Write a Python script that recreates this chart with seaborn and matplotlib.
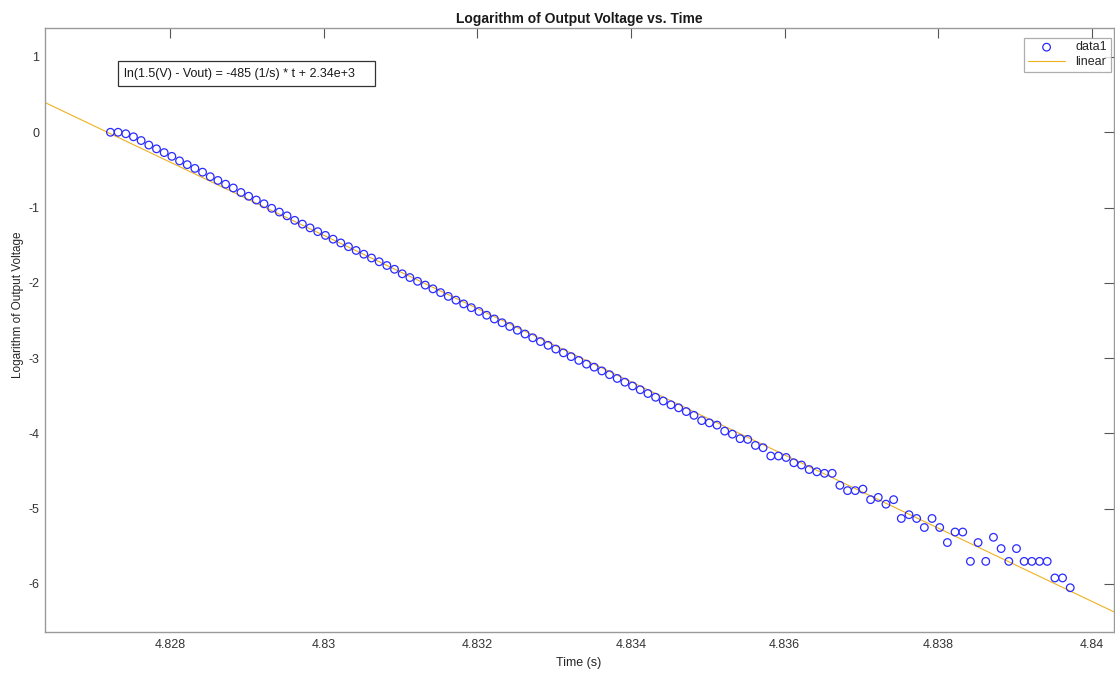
import numpy as np
import pandas as pd
import matplotlib
matplotlib.use("Agg")
import matplotlib.pyplot as plt
from matplotlib.patches import Rectangle
import seaborn as sns

# ---- data ----
t_start = 4.82722      # s, first sample
t_step = 0.0001        # s, sampling interval
log_vout = [
    0.00, 0.00, -0.02, -0.06, -0.11, -0.17, -0.22, -0.27, -0.32, -0.38,
    -0.43, -0.48, -0.53, -0.59, -0.64, -0.69, -0.74, -0.80, -0.85, -0.90,
    -0.95, -1.01, -1.06, -1.11, -1.17, -1.22, -1.27, -1.32, -1.37, -1.42,
    -1.47, -1.52, -1.57, -1.62, -1.67, -1.72, -1.77, -1.82, -1.88, -1.93,
    -1.98, -2.03, -2.08, -2.13, -2.18, -2.23, -2.28, -2.33, -2.38, -2.43,
    -2.48, -2.53, -2.58, -2.63, -2.68, -2.73, -2.78, -2.83, -2.88, -2.93,
    -2.98, -3.03, -3.08, -3.12, -3.17, -3.22, -3.27, -3.32, -3.37, -3.42,
    -3.47, -3.52, -3.57, -3.62, -3.66, -3.71, -3.76, -3.83, -3.86, -3.89,
    -3.97, -4.01, -4.07, -4.08, -4.16, -4.19, -4.30,
    -4.30, -4.32, -4.39, -4.42, -4.48, -4.51, -4.53, -4.53, -4.69, -4.76,
    -4.76, -4.74, -4.88, -4.85, -4.94, -4.88, -5.13, -5.08, -5.13, -5.25,
    -5.13, -5.25, -5.45, -5.31, -5.31, -5.70, -5.45, -5.70, -5.38, -5.53,
    -5.70, -5.53, -5.70, -5.70, -5.70, -5.70, -5.92, -5.92, -6.05,
]
fit_slope = -486.0       # 1/s
fit_intercept = 2346.01
x_limits = [4.826368, 4.84029]
y_limits = [-6.638, 1.389]
x_ticks = [4.828, 4.830, 4.832, 4.834, 4.836, 4.838, 4.840]
x_tick_labels = ["4.828", "4.83", "4.832", "4.834", "4.836", "4.838", "4.84"]
y_ticks = [-6, -5, -4, -3, -2, -1, 0, 1]
y_tick_labels = ["-6", "-5", "-4", "-3", "-2", "-1", "0", "1"]
equation_text = "ln(1.5(V) - Vout) = -485 (1/s) * t + 2.34e+3"

time_s = t_start + t_step * np.arange(len(log_vout))
df = pd.DataFrame({"t": time_s, "y": log_vout})
fit_t = np.array(x_limits)
fit_df = pd.DataFrame({"t": fit_t, "y": fit_slope * fit_t + fit_intercept})

# ---- styling ----
sns.set_theme(style="white")
plt.rcParams["font.family"] = ["Liberation Sans", "DejaVu Sans"]
plt.rcParams["axes.unicode_minus"] = False

W, H = 1115, 675
fig = plt.figure(figsize=(W / 100, H / 100), dpi=100)
L, R, T, B = 45, 1114, 27.7, 632
ax = fig.add_axes([L / W, 1 - B / H, (R - L) / W, (B - T) / H])

sns.lineplot(data=fit_df, x="t", y="y", ax=ax, color="#EDB120", linewidth=0.8,
             label="linear", zorder=1)
sns.scatterplot(data=df, x="t", y="y", ax=ax, marker="o", s=30,
                facecolor="none", edgecolor="#2a2aff", linewidth=0.9,
                label="data1", zorder=2)

ax.set_xlim(x_limits)
ax.set_ylim(y_limits)
ax.set_xticks(x_ticks)
ax.set_xticklabels(x_tick_labels)
ax.set_yticks(y_ticks)
ax.set_yticklabels(y_tick_labels)

for sp in ax.spines.values():
    sp.set_color("#9a9a9a")
    sp.set_linewidth(1.0)
ax.tick_params(axis="both", direction="in", length=7, width=0.8,
               color="#555555", labelcolor="#333333", labelsize=9,
               top=True, right=True)
ax.tick_params(axis="x", pad=5)
ax.tick_params(axis="y", pad=4)

ax.set_title("Logarithm of Output Voltage vs. Time", fontsize=10,
             fontweight="bold", color="#1a1a1a", pad=3.5)
ax.set_xlabel("Time (s)", fontsize=9, color="#262626", va="center")
ax.xaxis.set_label_coords(0.499, (B - 663) / (B - T))
ax.set_ylabel("Logarithm of Output Voltage", fontsize=8.5, color="#262626",
              va="center")
ax.yaxis.set_label_coords((18 - L) / (R - L), (B - 305) / (B - T))

# equation annotation box (fixed-size textbox, as in the reference)
box_x0, box_x1, box_y0, box_y1 = 118, 375, 61, 86
fig.patches.append(Rectangle((box_x0 / W, 1 - box_y1 / H),
                             (box_x1 - box_x0) / W, (box_y1 - box_y0) / H,
                             transform=fig.transFigure, facecolor="white",
                             edgecolor="#333333", linewidth=0.9, zorder=5))
fig.text(124 / W, 1 - 73.5 / H, equation_text, fontsize=9, color="#1a1a1a",
         ha="left", va="center", zorder=6)

# legend: data1 first, then linear
handles, labels = ax.get_legend_handles_labels()
order = [labels.index("data1"), labels.index("linear")]
leg = ax.legend([handles[i] for i in order], [labels[i] for i in order],
                loc="upper right",
                bbox_to_anchor=((1110.7 - L) / (R - L), (B - 37.7) / (B - T)),
                borderaxespad=0, fontsize=9, frameon=True, fancybox=False,
                handlelength=3.0, handletextpad=0.8, borderpad=0.3,
                labelspacing=0.2, markerscale=1.0)
leg.get_frame().set_edgecolor("#9a9a9a")
leg.get_frame().set_linewidth(0.9)

fig.savefig("out.png", dpi=100)
